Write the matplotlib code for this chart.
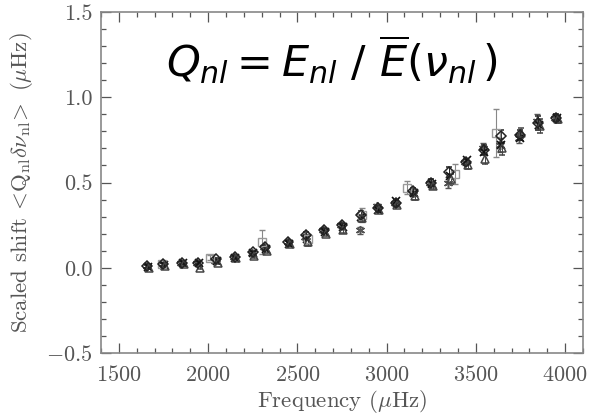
import matplotlib
matplotlib.use("Agg")
from matplotlib import pyplot as plt
from matplotlib.ticker import MultipleLocator

plt.rcParams["font.family"] = "serif"
plt.rcParams["font.serif"] = ["cmr10", "DejaVu Serif"]
plt.rcParams["mathtext.fontset"] = "cm"
plt.rcParams["axes.formatter.use_mathtext"] = True

# mode frequencies (muHz)
freq = [1660, 1750, 1855, 1945, 2045, 2150, 2250, 2320, 2450, 2550, 2650, 2750,
        2855, 2950, 3050, 3150, 3250, 3350, 3445, 3545, 3640, 3745, 3850, 3950]

diamond = [0.01, 0.02, 0.03, 0.03, 0.05, 0.065, 0.09, 0.12, 0.15, 0.19, 0.22, 0.25,
           0.31, 0.35, 0.38, 0.45, 0.50, 0.56, 0.62, 0.69, 0.77, 0.78, 0.85, 0.88]
cross = [0.005, 0.015, 0.025, 0.03, 0.04, 0.06, 0.085, 0.11, 0.14, 0.17, 0.21, 0.24,
         0.30, 0.34, 0.39, 0.44, 0.49, 0.54, 0.63, 0.68, 0.72, 0.76, 0.84, 0.88]
triangle = [0.0, 0.01, 0.02, 0.0, 0.03, 0.06, 0.07, 0.10, 0.14, 0.15, 0.20, 0.22,
            0.29, 0.34, 0.37, 0.42, 0.48, 0.52, 0.60, 0.64, 0.70, 0.79, 0.83, 0.87]
aster = [0.01, 0.02, 0.03, 0.03, 0.04, 0.065, 0.085, 0.12, 0.15, 0.18, 0.22, 0.25,
         0.22, 0.36, 0.38, 0.44, 0.50, 0.50, 0.62, 0.70, 0.72, 0.76, 0.86, 0.88]
err_small = [0.01, 0.01, 0.01, 0.01, 0.01, 0.01, 0.01, 0.015, 0.015, 0.02, 0.015, 0.015,
             0.02, 0.015, 0.015, 0.02, 0.02, 0.03, 0.02, 0.03, 0.04, 0.03, 0.04, 0.02]

freq_sq = [1740, 2010, 2300, 2560, 2860, 3115, 3385, 3615]
square = [0.02, 0.06, 0.15, 0.17, 0.31, 0.47, 0.55, 0.79]
err_sq = [0.01, 0.015, 0.07, 0.03, 0.04, 0.04, 0.06, 0.14]

fig = plt.figure(figsize=(5.91, 4.17), dpi=100)
ax = fig.add_axes([0.1709, 0.1535, 0.8156, 0.8177])

tc = "#555555"
ms = 5.5
ax.errorbar(freq_sq, square, yerr=err_sq, fmt="s", mfc="none", mec="#999999",
            ecolor="#888888", ms=ms + 0.5, mew=1.0, capsize=2.5, elinewidth=0.8)
ax.errorbar([f + 8 for f in freq], triangle, yerr=err_small, fmt="^", mfc="none",
            mec="#444444", ecolor="#444444", ms=ms, mew=1.1, capsize=2, elinewidth=0.7)
ax.errorbar([f - 5 for f in freq], aster, yerr=err_small, fmt="none",
            ecolor="#555555", capsize=2, elinewidth=0.7)
ax.plot([f - 5 for f in freq], aster, ls="none", marker=(6, 2, 0), color="#555555",
        ms=ms + 1, mew=1.1)
ax.errorbar(freq, diamond, yerr=err_small, fmt="D", mfc="none", mec="#222222",
            ecolor="#222222", ms=ms - 0.5, mew=1.1, capsize=2, elinewidth=0.7)
ax.plot([f + 3 for f in freq], cross, ls="none", marker="x", color="#111111",
        ms=ms, mew=1.2)

ax.set_xlim(1400, 4100)
ax.set_ylim(-0.5, 1.5)
ax.set_xticks([1500, 2000, 2500, 3000, 3500, 4000])
ax.set_yticks([-0.5, 0.0, 0.5, 1.0, 1.5])
ax.set_yticklabels([r"$-0.5$", "0.0", "0.5", "1.0", "1.5"])
ax.xaxis.set_minor_locator(MultipleLocator(100))
ax.yaxis.set_minor_locator(MultipleLocator(0.1))
ax.tick_params(which="both", direction="in", top=True, right=True, colors=tc,
               labelsize=16, labelcolor=tc, width=0.9)
ax.tick_params(which="major", length=7)
ax.tick_params(axis="x", which="major", pad=9)
ax.tick_params(axis="y", which="major", pad=6)
ax.tick_params(which="minor", length=3.5)
for s in ax.spines.values():
    s.set_color("#888888")
    s.set_linewidth(1.2)

ax.set_xlabel(r"Frequency ($\mu$Hz)", fontsize=16.5, color=tc, labelpad=2)
ax.set_ylabel(r"Scaled shift $\!<\!\mathrm{Q_{nl}}\delta\nu_{\rm nl}\!>$ ($\mu$Hz)",
              fontsize=16.5, color=tc, labelpad=8)

ax.text(0.48, 0.86, r"$Q_{nl} = E_{nl}\ /\ \overline{E}(\nu_{nl}\,)$",
        transform=ax.transAxes, ha="center", va="center", fontsize=31,
        color="black", math_fontfamily="dejavusans")

fig.savefig("out.png", dpi=100)
